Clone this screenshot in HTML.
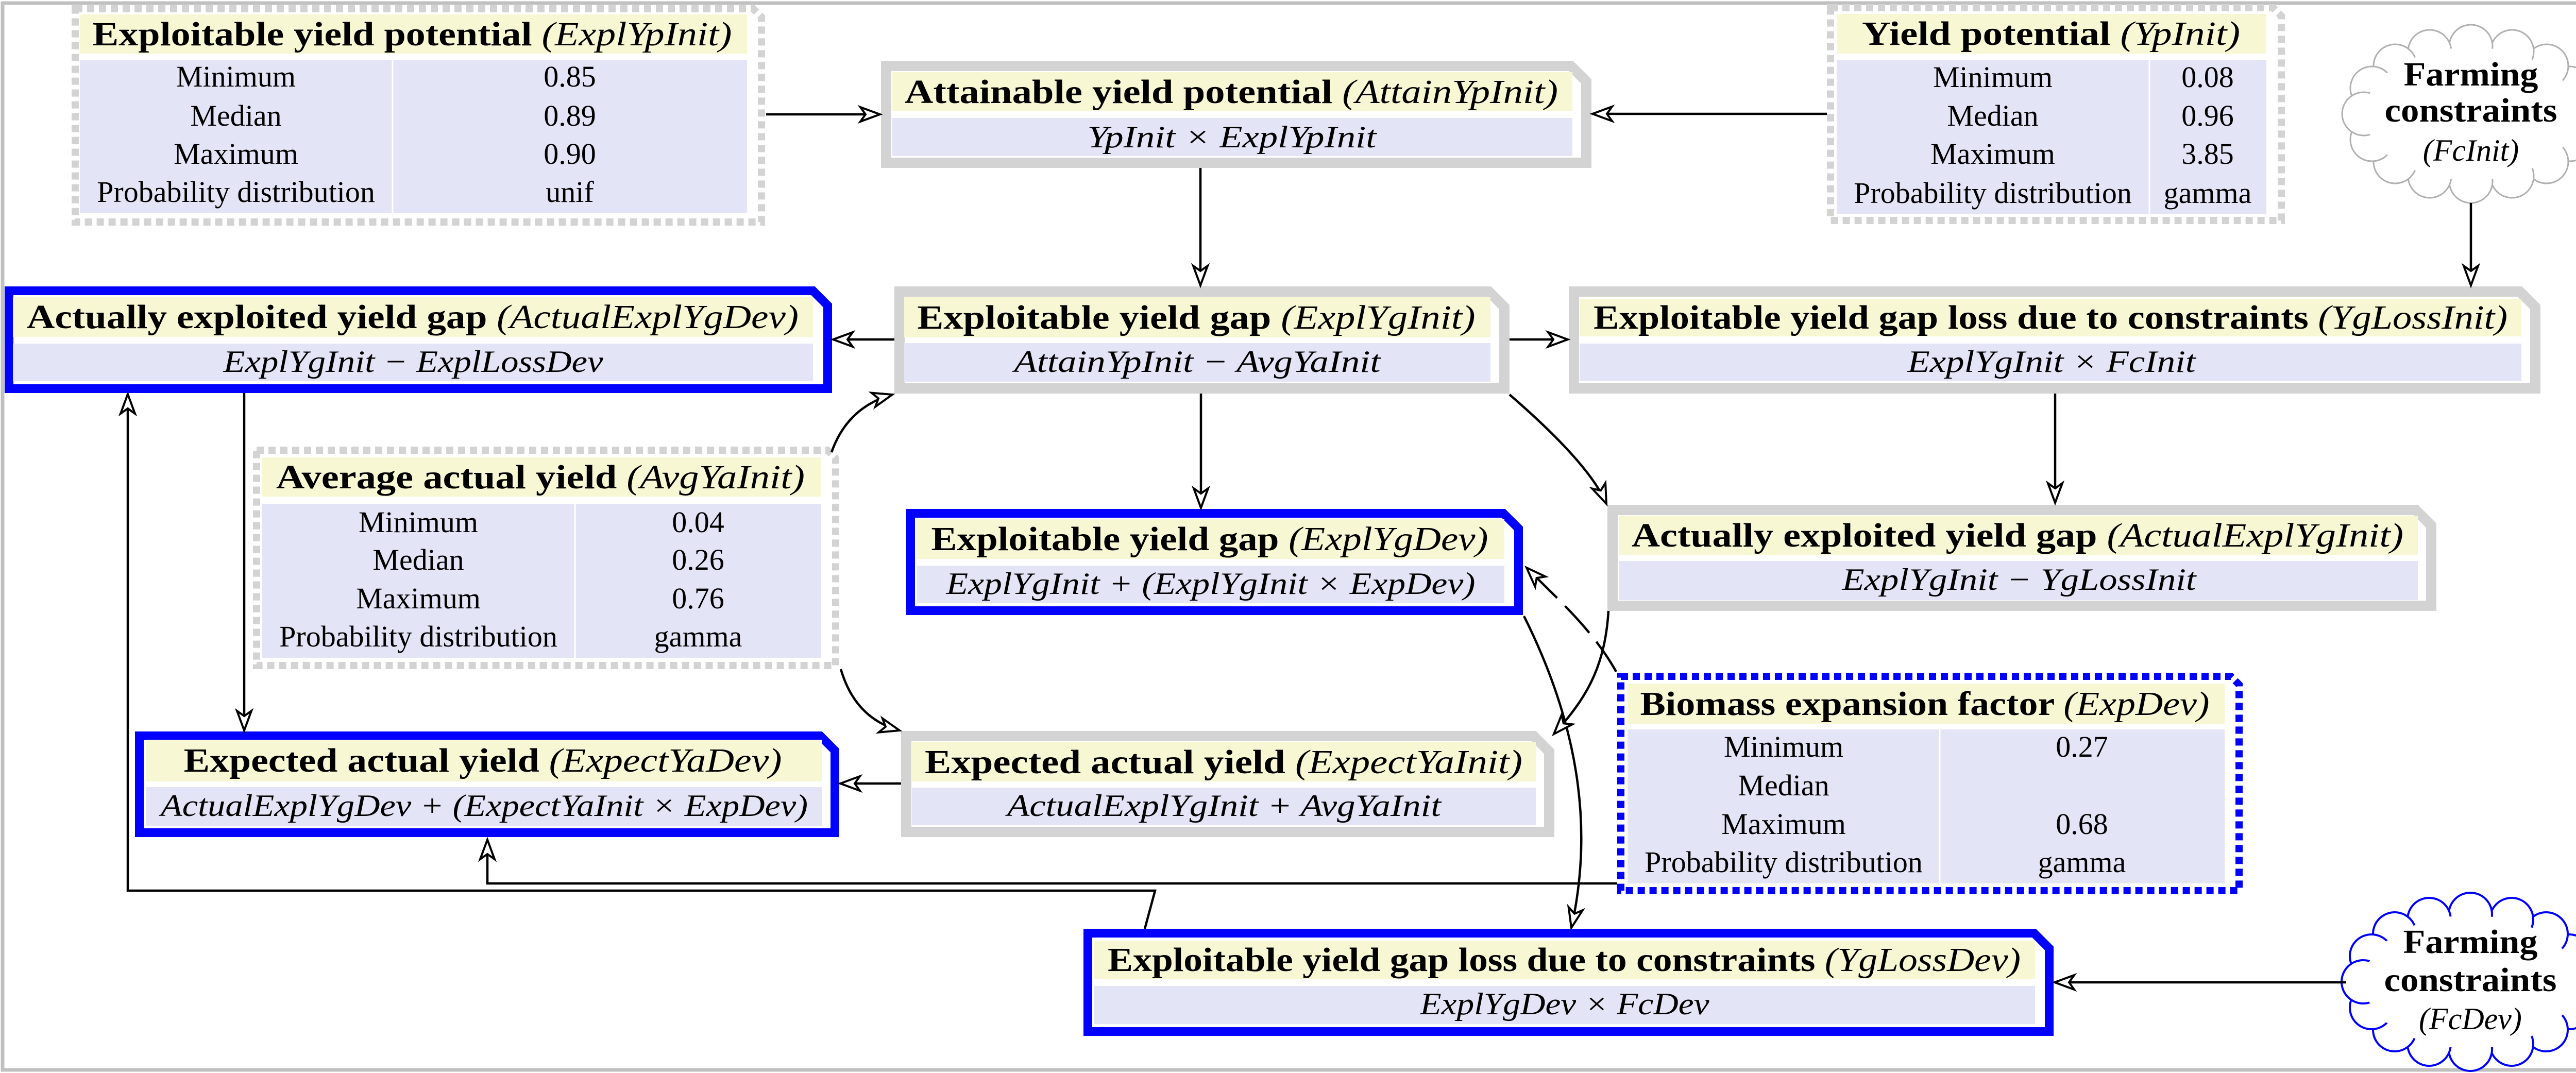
<!DOCTYPE html>
<html><head><meta charset="utf-8"><style>
html,body{margin:0;padding:0;background:#fff;}
svg{display:block;}
text{font-family:"Liberation Serif",serif;fill:#000;}
.t{font-size:66px;text-anchor:middle;}
.f{font-size:60px;font-style:italic;text-anchor:middle;}
.r{font-size:58px;text-anchor:middle;}
.b{font-weight:bold;}
.i{font-style:italic;font-weight:normal;}
.y{fill:#f7f7d3;}
.l{fill:#e4e4f7;}
.c{fill:none;stroke:#000;stroke-width:4.5;}
</style></head><body>
<svg width="5053" height="2083" viewBox="0 0 5053 2083" xmlns="http://www.w3.org/2000/svg">
<defs>
<marker id="a" markerWidth="50" markerHeight="40" refX="44" refY="20" orient="auto" markerUnits="userSpaceOnUse">
<path d="M6,6 L44,20 L6,34 L16,20 Z" fill="#fff" stroke="#000" stroke-width="4" stroke-linejoin="miter"/>
</marker>
<g id="cl">
<circle cx="208" cy="0" r="42"/><circle cx="192" cy="50" r="42"/><circle cx="192" cy="-50" r="42"/>
<circle cx="147" cy="93" r="42"/><circle cx="147" cy="-93" r="42"/><circle cx="80" cy="121" r="42"/><circle cx="80" cy="-121" r="42"/>
<circle cx="0" cy="131" r="42"/><circle cx="0" cy="-131" r="42"/>
<circle cx="-80" cy="121" r="42"/><circle cx="-80" cy="-121" r="42"/><circle cx="-147" cy="93" r="42"/><circle cx="-147" cy="-93" r="42"/>
<circle cx="-192" cy="50" r="42"/><circle cx="-192" cy="-50" r="42"/><circle cx="-208" cy="0" r="42"/>
<ellipse cx="0" cy="0" rx="206" ry="129" fill="#fff" stroke="none"/>
</g>
</defs>
<rect x="5" y="6" width="5042" height="2071" fill="none" stroke="#c0c0c0" stroke-width="7"/>

<!-- 1 ExplYpInit dotted -->
<rect x="155" y="28" width="1295" height="76" class="y"/>
<rect x="155" y="116" width="1295" height="298" class="l"/>
<line x1="762" y1="116" x2="762" y2="414" stroke="#fff" stroke-width="3"/>
<path d="M146,17 H1462 L1478,33 V431 H146 Z" fill="none" stroke="#d3d3d3" stroke-width="14" stroke-dasharray="14 9"/>
<text class="t" x="800" y="88" textLength="1241" lengthAdjust="spacingAndGlyphs"><tspan class="b">Exploitable yield potential </tspan><tspan class="i">(ExplYpInit)</tspan></text>
<text class="r" x="458" y="168">Minimum</text><text class="r" x="1106" y="168">0.85</text>
<text class="r" x="458" y="244">Median</text><text class="r" x="1106" y="244">0.89</text>
<text class="r" x="458" y="318">Maximum</text><text class="r" x="1106" y="318">0.90</text>
<text class="r" x="458" y="392">Probability distribution</text><text class="r" x="1106" y="392">unif</text>

<!-- 2 Attain -->
<path d="M1720,128 H3049 L3079,158 V316 H1720 Z" fill="#fff" stroke="#d3d3d3" stroke-width="20"/>
<rect x="1732" y="140" width="1320" height="76" class="y"/>
<rect x="1732" y="229" width="1320" height="74" class="l"/>
<text class="t" x="2390" y="200" textLength="1268" lengthAdjust="spacingAndGlyphs"><tspan class="b">Attainable yield potential </tspan><tspan class="i">(AttainYpInit)</tspan></text>
<text class="f" x="2391" y="286" textLength="561" lengthAdjust="spacingAndGlyphs">YpInit × ExplYpInit</text>

<!-- 3 YpInit dotted -->
<rect x="3565" y="27" width="834" height="77" class="y"/>
<rect x="3565" y="116" width="834" height="299" class="l"/>
<line x1="4172" y1="116" x2="4172" y2="415" stroke="#fff" stroke-width="3"/>
<path d="M3553,15 H4412 L4428,31 V428 H3553 Z" fill="none" stroke="#d3d3d3" stroke-width="14" stroke-dasharray="14 9"/>
<text class="t" x="3981" y="87" textLength="734" lengthAdjust="spacingAndGlyphs"><tspan class="b">Yield potential </tspan><tspan class="i">(YpInit)</tspan></text>
<text class="r" x="3868" y="169">Minimum</text><text class="r" x="4285" y="169">0.08</text>
<text class="r" x="3868" y="244">Median</text><text class="r" x="4285" y="244">0.96</text>
<text class="r" x="3868" y="318">Maximum</text><text class="r" x="4285" y="318">3.85</text>
<text class="r" x="3868" y="394">Probability distribution</text><text class="r" x="4285" y="394">gamma</text>

<!-- 4 cloud FcInit -->
<use href="#cl" transform="translate(4796,221)" fill="#fff" stroke="#b0b0b0" stroke-width="3"/>
<text class="t b" x="4796" y="166" textLength="261" lengthAdjust="spacingAndGlyphs" font-weight="bold">Farming</text>
<text class="t b" x="4796" y="236" textLength="335" lengthAdjust="spacingAndGlyphs" font-weight="bold">constraints</text>
<text class="f" x="4796" y="312">(FcInit)</text>

<!-- 5 ActualExplYgDev blue -->
<path d="M17.5,564.5 H1578 L1606.5,593 V754.5 H17.5 Z" fill="#fff" stroke="#0000ff" stroke-width="17"/>
<rect x="25" y="576" width="1553" height="78" class="y"/>
<rect x="25" y="667" width="1553" height="73" class="l"/>
<text class="t" x="801" y="637" textLength="1498" lengthAdjust="spacingAndGlyphs"><tspan class="b">Actually exploited yield gap </tspan><tspan class="i">(ActualExplYgDev)</tspan></text>
<text class="f" x="802" y="722" textLength="737" lengthAdjust="spacingAndGlyphs">ExplYgInit − ExplLossDev</text>

<!-- 6 ExplYgInit -->
<path d="M1746,566 H2890 L2920,596 V754 H1746 Z" fill="#fff" stroke="#d3d3d3" stroke-width="20"/>
<rect x="1755" y="577" width="1138" height="78" class="y"/>
<rect x="1755" y="666" width="1138" height="75" class="l"/>
<text class="t" x="2322" y="638" textLength="1083" lengthAdjust="spacingAndGlyphs"><tspan class="b">Exploitable yield gap </tspan><tspan class="i">(ExplYgInit)</tspan></text>
<text class="f" x="2324" y="722" textLength="711" lengthAdjust="spacingAndGlyphs">AttainYpInit − AvgYaInit</text>

<!-- 7 YgLossInit -->
<path d="M3055,566 H4891 L4921,596 V754 H3055 Z" fill="#fff" stroke="#d3d3d3" stroke-width="20"/>
<rect x="3066" y="580" width="1828" height="73" class="y"/>
<rect x="3066" y="667" width="1828" height="73" class="l"/>
<text class="t" x="3980" y="638" textLength="1774" lengthAdjust="spacingAndGlyphs"><tspan class="b">Exploitable yield gap loss due to constraints </tspan><tspan class="i">(YgLossInit)</tspan></text>
<text class="f" x="3982" y="722" textLength="559" lengthAdjust="spacingAndGlyphs">ExplYgInit × FcInit</text>

<!-- 8 AvgYaInit dotted -->
<rect x="508" y="888" width="1085" height="76" class="y"/>
<rect x="508" y="978" width="1085" height="299" class="l"/>
<line x1="1116" y1="978" x2="1116" y2="1277" stroke="#fff" stroke-width="3"/>
<path d="M498,874 H1606 L1622,890 V1292 H498 Z" fill="none" stroke="#d3d3d3" stroke-width="14" stroke-dasharray="14 9"/>
<text class="t" x="1049" y="948" textLength="1026" lengthAdjust="spacingAndGlyphs"><tspan class="b">Average actual yield </tspan><tspan class="i">(AvgYaInit)</tspan></text>
<text class="r" x="812" y="1033">Minimum</text><text class="r" x="1355" y="1033">0.04</text>
<text class="r" x="812" y="1106">Median</text><text class="r" x="1355" y="1106">0.26</text>
<text class="r" x="812" y="1181">Maximum</text><text class="r" x="1355" y="1181">0.76</text>
<text class="r" x="812" y="1255">Probability distribution</text><text class="r" x="1355" y="1255">gamma</text>

<!-- 9 ExplYgDev blue -->
<path d="M1767.5,996.5 H2918 L2947.5,1026 V1185.5 H1767.5 Z" fill="#fff" stroke="#0000ff" stroke-width="17"/>
<rect x="1780" y="1008" width="1140" height="77" class="y"/>
<rect x="1780" y="1098" width="1140" height="73" class="l"/>
<text class="t" x="2348" y="1068" textLength="1081" lengthAdjust="spacingAndGlyphs"><tspan class="b">Exploitable yield gap </tspan><tspan class="i">(ExplYgDev)</tspan></text>
<text class="f" x="2350" y="1153" textLength="1027" lengthAdjust="spacingAndGlyphs">ExplYgInit + (ExplYgInit × ExpDev)</text>

<!-- 10 ActualExplYgInit -->
<path d="M3130,990 H4689 L4719,1020 V1176 H3130 Z" fill="#fff" stroke="#d3d3d3" stroke-width="20"/>
<rect x="3142" y="1001" width="1551" height="77" class="y"/>
<rect x="3142" y="1089" width="1551" height="76" class="l"/>
<text class="t" x="3916" y="1061" textLength="1498" lengthAdjust="spacingAndGlyphs"><tspan class="b">Actually exploited yield gap </tspan><tspan class="i">(ActualExplYgInit)</tspan></text>
<text class="f" x="3919" y="1145" textLength="687" lengthAdjust="spacingAndGlyphs">ExplYgInit − YgLossInit</text>

<!-- 11 ExpectYaDev blue -->
<path d="M270.5,1428.5 H1592 L1620.5,1457 V1616.5 H270.5 Z" fill="#fff" stroke="#0000ff" stroke-width="17"/>
<rect x="283" y="1436" width="1312" height="81" class="y"/>
<rect x="283" y="1528" width="1312" height="75" class="l"/>
<text class="t" x="937" y="1498" textLength="1161" lengthAdjust="spacingAndGlyphs"><tspan class="b">Expected actual yield </tspan><tspan class="i">(ExpectYaDev)</tspan></text>
<text class="f" x="940" y="1584" textLength="1256" lengthAdjust="spacingAndGlyphs">ActualExplYgDev + (ExpectYaInit × ExpDev)</text>

<!-- 12 ExpectYaInit -->
<path d="M1759,1429 H2977 L3007,1459 V1615 H1759 Z" fill="#fff" stroke="#d3d3d3" stroke-width="20"/>
<rect x="1770" y="1441" width="1211" height="76" class="y"/>
<rect x="1770" y="1529" width="1211" height="73" class="l"/>
<text class="t" x="2375" y="1501" textLength="1160" lengthAdjust="spacingAndGlyphs"><tspan class="b">Expected actual yield </tspan><tspan class="i">(ExpectYaInit)</tspan></text>
<text class="f" x="2376" y="1584" textLength="842" lengthAdjust="spacingAndGlyphs">ActualExplYgInit + AvgYaInit</text>

<!-- 13 Biomass dotted blue -->
<rect x="3159" y="1327" width="1159" height="78" class="y"/>
<rect x="3159" y="1416" width="1159" height="299" class="l"/>
<line x1="3765" y1="1416" x2="3765" y2="1715" stroke="#fff" stroke-width="3"/>
<path d="M3146,1313 H4330 L4346,1329 V1729 H3146 Z" fill="none" stroke="#0000ff" stroke-width="14" stroke-dasharray="14 9"/>
<text class="t" x="3736" y="1388" textLength="1105" lengthAdjust="spacingAndGlyphs"><tspan class="b">Biomass expansion factor </tspan><tspan class="i">(ExpDev)</tspan></text>
<text class="r" x="3462" y="1469">Minimum</text><text class="r" x="4041" y="1469">0.27</text>
<text class="r" x="3462" y="1544">Median</text>
<text class="r" x="3462" y="1619">Maximum</text><text class="r" x="4041" y="1619">0.68</text>
<text class="r" x="3462" y="1693">Probability distribution</text><text class="r" x="4041" y="1693">gamma</text>

<!-- 14 YgLossDev blue -->
<path d="M2111.5,1811.5 H3948 L3977.5,1841 V2002.5 H2111.5 Z" fill="#fff" stroke="#0000ff" stroke-width="17"/>
<rect x="2123" y="1826" width="1827" height="75" class="y"/>
<rect x="2123" y="1914" width="1827" height="74" class="l"/>
<text class="t" x="3036" y="1885" textLength="1772" lengthAdjust="spacingAndGlyphs"><tspan class="b">Exploitable yield gap loss due to constraints </tspan><tspan class="i">(YgLossDev)</tspan></text>
<text class="f" x="3037" y="1969" textLength="561" lengthAdjust="spacingAndGlyphs">ExplYgDev × FcDev</text>

<!-- 15 cloud FcDev -->
<use href="#cl" transform="translate(4795,1906)" fill="#fff" stroke="#0000ff" stroke-width="4"/>
<text class="t b" x="4795" y="1850" textLength="261" lengthAdjust="spacingAndGlyphs" font-weight="bold">Farming</text>
<text class="t b" x="4795" y="1924" textLength="335" lengthAdjust="spacingAndGlyphs" font-weight="bold">constraints</text>
<text class="f" x="4795" y="1998">(FcDev)</text>

<!-- connectors -->
<path class="c" d="M1487,222 H1708" marker-end="url(#a)"/>
<path class="c" d="M3546,221 H3091" marker-end="url(#a)"/>
<path class="c" d="M2330,326 V554" marker-end="url(#a)"/>
<path class="c" d="M4796,394 V554" marker-end="url(#a)"/>
<path class="c" d="M1736,659 H1617" marker-end="url(#a)"/>
<path class="c" d="M2930,659 H3043" marker-end="url(#a)"/>
<path class="c" d="M2331,764 V986" marker-end="url(#a)"/>
<path class="c" d="M3989,764 V976" marker-end="url(#a)"/>
<path class="c" d="M2930,766 Q3085,900 3118,978" marker-end="url(#a)"/>
<path class="c" d="M1614,878 Q1645,790 1732,766" marker-end="url(#a)"/>
<path class="c" d="M1632,1299 Q1660,1395 1746,1418" marker-end="url(#a)"/>
<path class="c" d="M474,763 V1418" marker-end="url(#a)"/>
<path class="c" d="M2222,1803 L2242,1729 H248 V765" marker-end="url(#a)"/>
<path class="c" d="M3139,1715 H946 V1630" marker-end="url(#a)"/>
<path class="c" d="M1749,1521 H1631" marker-end="url(#a)"/>
<path class="c" d="M4554,1907 H3988" marker-end="url(#a)"/>
<path class="c" d="M2958,1196 C3060,1400 3095,1600 3050,1801" marker-end="url(#a)"/>
<path class="c" d="M3122,1186 C3115,1300 3075,1360 3016,1425" marker-end="url(#a)"/>
<path class="c" d="M3137,1304 C3090,1220 3020,1160 2963,1102" stroke-dasharray="70 22" marker-end="url(#a)"/>
</svg>
</body></html>
